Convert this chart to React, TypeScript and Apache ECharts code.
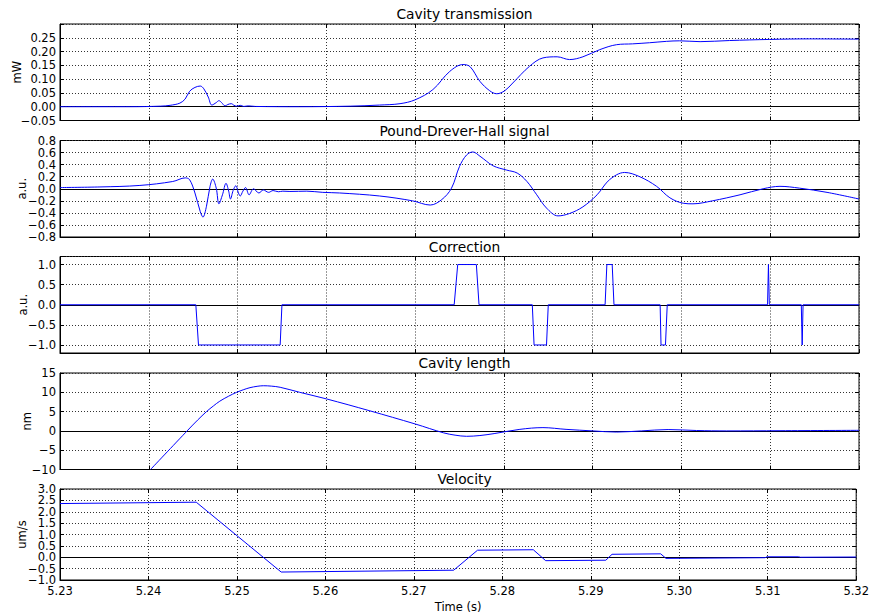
import React, { useEffect, useRef } from "react";
import * as echarts from "echarts";

// Time axis (s)
const timeMin = 5.23;
const timeMax = 5.32;
const timeStep = 0.01;

// Cavity transmission (mW): [time, power]
const transmission: number[][] = [
  [5.2300, 0], [5.2379, 0], [5.2413, 0.002], [5.2424, 0.005], [5.2435, 0.013],
  [5.2441, 0.028], [5.2446, 0.056], [5.2452, 0.07], [5.2458, 0.075], [5.2462, 0.065],
  [5.2467, 0.035], [5.2471, 0.006], [5.2476, 0.015], [5.2479, 0.022], [5.2482, 0.015],
  [5.2486, 0.003], [5.2489, 0.008], [5.2493, 0.011], [5.2496, 0.005], [5.2499, 0.002],
  [5.2503, 0.005], [5.2507, 0.001], [5.2512, 0.003], [5.2520, 0.001], [5.2570, 0.0],
  [5.2627, 0.002], [5.2660, 0.006], [5.2683, 0.011], [5.2700, 0.025], [5.2720, 0.062],
  [5.2739, 0.128], [5.2754, 0.153], [5.2762, 0.145], [5.2773, 0.092], [5.2784, 0.058],
  [5.2792, 0.047], [5.2801, 0.058], [5.2810, 0.086], [5.2829, 0.147], [5.2844, 0.177],
  [5.2860, 0.181], [5.2874, 0.171], [5.2889, 0.181], [5.2908, 0.207], [5.2927, 0.225],
  [5.2945, 0.228], [5.2964, 0.232], [5.2983, 0.237], [5.2998, 0.239], [5.3021, 0.236],
  [5.3054, 0.24], [5.3099, 0.244], [5.3144, 0.246], [5.3200, 0.245],
];

// Pound-Drever-Hall error signal (a.u.)
const pdhSignal: number[][] = [
  [5.2300, 0.02], [5.2345, 0.03], [5.2390, 0.055], [5.2427, 0.12], [5.2441, 0.18],
  [5.2446, 0.15], [5.2452, -0.07], [5.2458, -0.38], [5.2461, -0.47], [5.2465, -0.29],
  [5.2469, 0.04], [5.2472, 0.16], [5.2476, 0.01], [5.2479, -0.25], [5.2483, -0.1],
  [5.2487, 0.09], [5.2490, -0.04], [5.2492, -0.17], [5.2495, -0.03], [5.2498, 0.05],
  [5.2501, -0.07], [5.2503, -0.12], [5.2506, -0.04], [5.2509, 0.02], [5.2513, -0.1],
  [5.2518, 0.0], [5.2524, -0.07], [5.2529, -0.02], [5.2535, -0.06], [5.2540, -0.03],
  [5.2546, -0.05], [5.2551, -0.04], [5.2559, -0.045], [5.2578, -0.04], [5.2596, -0.06],
  [5.2615, -0.07], [5.2660, -0.12], [5.2697, -0.2], [5.2717, -0.27], [5.2730, -0.18],
  [5.2741, 0.01], [5.2750, 0.37], [5.2758, 0.56], [5.2765, 0.61], [5.2773, 0.54],
  [5.2788, 0.38], [5.2803, 0.31], [5.2815, 0.26], [5.2826, 0.12], [5.2837, -0.1],
  [5.2848, -0.32], [5.2861, -0.45], [5.2874, -0.41], [5.2889, -0.3], [5.2905, -0.1],
  [5.2919, 0.15], [5.2936, 0.27], [5.2953, 0.2], [5.2972, 0.04], [5.2987, -0.15],
  [5.3002, -0.24], [5.3013, -0.25], [5.3035, -0.2], [5.3066, -0.1], [5.3092, 0.0],
  [5.3111, 0.04], [5.3133, 0.01], [5.3164, -0.06], [5.3200, -0.17],
];

// Feedback correction pulses (a.u.)
const correction: number[][] = [
  [5.2300, 0], [5.2453, 0], [5.2456, -1], [5.2548, -1], [5.2550, 0],
  [5.2744, 0], [5.2748, 1], [5.2769, 1], [5.2772, 0],
  [5.2832, 0], [5.2834, -1], [5.2848, -1], [5.2850, 0],
  [5.2914, 0], [5.2916, 1], [5.2922, 1], [5.2924, 0],
  [5.2976, 0], [5.2977, -1], [5.2982, -1], [5.2984, 0],
  [5.3097, 0], [5.3098, 1], [5.3099, 0],
  [5.3135, 0], [5.3136, -1], [5.3137, 0], [5.3200, 0],
];

// Cavity length (nm)
const cavityLength: number[][] = [
  [5.2402, -10.0], [5.2444, 0.2], [5.2455, 2.8], [5.2465, 5.0], [5.2473, 6.5],
  [5.2480, 7.7], [5.2490, 9.0], [5.2499, 10.0], [5.2507, 10.7], [5.2514, 11.2],
  [5.2522, 11.55], [5.2529, 11.7], [5.2538, 11.6], [5.2548, 11.3], [5.2570, 10.0],
  [5.2600, 8.3], [5.2649, 5.2], [5.2700, 1.8], [5.2732, -0.5], [5.2745, -1.1],
  [5.2758, -1.4], [5.2773, -1.2], [5.2789, -0.7], [5.2818, 0.4], [5.2844, 0.85],
  [5.2870, 0.4], [5.2900, 0.0], [5.2927, -0.3], [5.2955, 0.0], [5.2985, 0.35],
  [5.3017, 0.1], [5.3051, 0.0], [5.3111, 0.05], [5.3200, 0.15],
];

// Mirror velocity (um/s)
const velocity: number[][] = [
  [5.2300, 2.36], [5.2454, 2.42], [5.2550, -0.65], [5.2745, -0.57], [5.2772, 0.31],
  [5.2835, 0.33], [5.2849, -0.15], [5.2917, -0.13], [5.2924, 0.13], [5.2979, 0.15],
  [5.2985, -0.05], [5.3097, -0.02], [5.3099, 0.02], [5.3135, 0.02], [5.3137, 0.0],
  [5.3200, 0.01],
];

const titles = [
  "Cavity transmission",
  "Pound-Drever-Hall signal",
  "Correction",
  "Cavity length",
  "Velocity",
];
const units = ["mW", "a.u.", "a.u.", "nm", "um/s"];

interface Panel {
  data: number[][];
  min: number;
  max: number;
  step: number;
  digits: number;
  hideMax?: boolean;
  // widen the extent by a hair so the end labels are never dropped as overlapping
  pad?: boolean;
  smooth: number | boolean;
  nameGap: number;
}

const panels: Panel[] = [
  { data: transmission, min: -0.05, max: 0.3, step: 0.05, digits: 2, hideMax: true, smooth: 0.35, nameGap: 37 },
  { data: pdhSignal, min: -0.8, max: 0.8, step: 0.2, digits: 1, smooth: 0.35, nameGap: 32 },
  { data: correction, min: -1.2, max: 1.2, step: 0.5, digits: 1, smooth: false, nameGap: 31.5 },
  { data: cavityLength, min: -10, max: 15, step: 5, digits: 0, smooth: 0.35, nameGap: 27.5 },
  { data: velocity, min: -1, max: 3, step: 0.5, digits: 1, pad: true, smooth: false, nameGap: 32 },
];

const FONT = "DejaVu Sans";
const PLOT_LEFT = 60;
const PLOT_RIGHT = 13;
const PANEL_TOPS = [24, 140.5, 256.5, 373, 489];
const PANEL_HEIGHT = 96.5;

function formatTick(v: number, digits: number): string {
  const val = Math.abs(v) < 1e-9 ? 0 : v;
  const s = Math.abs(val).toFixed(digits);
  return val < 0 ? "\u2212" + s : s;
}

function buildOption(): echarts.EChartsOption {
  const grid: any[] = [];
  const xAxis: any[] = [];
  const yAxis: any[] = [];
  const series: any[] = [];
  const title: any[] = [];

  const tickStyle = { color: "#000", width: 1 };
  const gridLine = { show: true, lineStyle: { color: "#333", width: 1, type: [1, 2] } };
  const labelStyle = { color: "#000", fontFamily: FONT, fontSize: 11.5 };

  panels.forEach((p, i) => {
    const top = PANEL_TOPS[i];
    const last = i === panels.length - 1;
    grid.push({
      left: PLOT_LEFT,
      right: PLOT_RIGHT,
      top,
      height: PANEL_HEIGHT,
      show: true,
      borderColor: "#000",
      borderWidth: 1,
      backgroundColor: "transparent",
      containLabel: false,
    });
    title.push({
      text: titles[i],
      left: PLOT_LEFT + (872 - PLOT_LEFT - PLOT_RIGHT) / 2,
      top: top - 22,
      textAlign: "center",
      textStyle: { fontFamily: FONT, fontSize: 13.8, fontWeight: "normal", color: "#000" },
    });

    // bottom and top time axes
    xAxis.push({
      type: "value",
      gridIndex: i,
      position: "bottom",
      min: timeMin,
      max: timeMax,
      interval: timeStep,
      axisLine: { show: true, onZero: false, lineStyle: { color: "#000", width: 1 } },
      axisTick: { show: true, inside: true, length: 4, lineStyle: tickStyle },
      axisLabel: {
        show: last,
        margin: 5,
        showMinLabel: true,
        showMaxLabel: true,
        ...labelStyle,
        formatter: (v: number) => v.toFixed(2),
      },
      splitLine: gridLine,
      name: last ? "Time (s)" : "",
      nameLocation: "middle",
      nameGap: 21,
      nameMoveOverlap: false,
      nameTextStyle: labelStyle,
    });
    xAxis.push({
      type: "value",
      gridIndex: i,
      position: "top",
      min: timeMin,
      max: timeMax,
      interval: timeStep,
      axisLine: { show: false, onZero: false },
      axisTick: { show: true, inside: true, length: 4, lineStyle: tickStyle },
      axisLabel: { show: false },
      splitLine: { show: false },
    });

    const eps = p.pad ? (p.max - p.min) * 2.5e-5 : 0;
    const yCommon: any = {
      type: "value",
      gridIndex: i,
      min: p.min - eps,
      max: p.max + eps,
      splitNumber: Math.round((p.max - p.min) / p.step),
    };

    const onStep = (v: number) => Math.abs(v / p.step - Math.round(v / p.step)) < 1e-6;

    yAxis.push({
      ...yCommon,
      position: "left",
      axisLine: { show: true, onZero: false, lineStyle: { color: "#000", width: 1 } },
      axisTick: { show: true, inside: true, length: 4, lineStyle: tickStyle },
      axisLabel: {
        show: true,
        margin: 4,
        showMinLabel: !p.pad,
        showMaxLabel: !p.pad,
        hideOverlap: false,
        ...labelStyle,
        formatter: (v: number) => {
          if (!onStep(v)) return "";
          if (p.hideMax && Math.abs(v - p.max) < 1e-9) return "";
          return formatTick(v, p.digits);
        },
      },
      splitLine: gridLine,
      name: units[i],
      nameLocation: "middle",
      nameRotate: 90,
      nameGap: p.nameGap,
      nameMoveOverlap: false,
      nameTextStyle: labelStyle,
    });
    yAxis.push({
      ...yCommon,
      position: "right",
      axisLine: { show: false, onZero: false },
      axisTick: { show: true, inside: true, length: 4, lineStyle: tickStyle },
      axisLabel: { show: false },
      splitLine: { show: false },
    });

    series.push({
      type: "line",
      name: titles[i],
      xAxisIndex: 2 * i,
      yAxisIndex: 2 * i,
      data: p.data,
      showSymbol: false,
      symbol: "none",
      smooth: p.smooth,
      clip: true,
      z: 10,
      lineStyle: { color: "#0000ff", width: 1 },
      markLine: {
        silent: true,
        symbol: "none",
        label: { show: false },
        lineStyle: { color: "#000", width: 1, type: "solid" },
        data: [{ yAxis: 0 }],
      },
    });
  });

  return {
    animation: false,
    backgroundColor: "#fff",
    title,
    grid,
    xAxis,
    yAxis,
    series,
  };
}

export default function App() {
  const ref = useRef<HTMLDivElement>(null);

  useEffect(() => {
    if (!ref.current) return;
    const chart = echarts.init(ref.current, undefined, { renderer: "svg" });
    chart.setOption(buildOption());
    return () => chart.dispose();
  }, []);

  return (
    <div
      ref={ref}
      style={{ position: "fixed", left: 0, top: 0, width: 872, height: 614, background: "#fff" }}
    />
  );
}
